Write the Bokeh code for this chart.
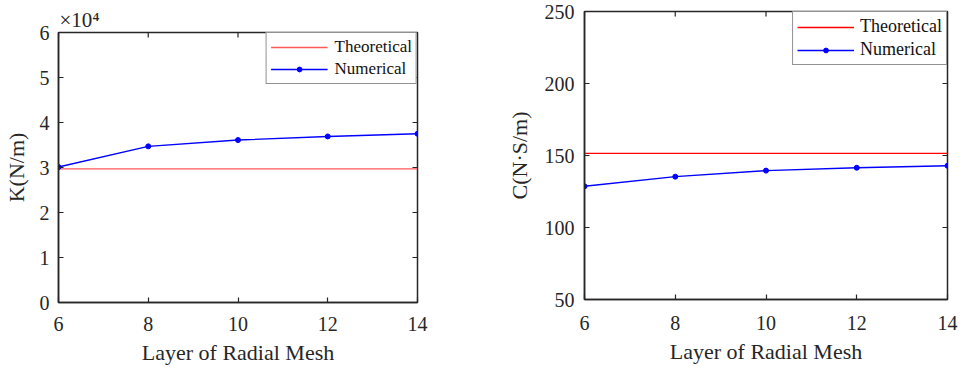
import math
from bokeh.plotting import figure
from bokeh.layouts import row, column
from bokeh.models import FixedTicker, Legend
from bokeh.embed import file_html
from bokeh.resources import INLINE

# ---- data ----
layers = [6, 8, 10, 12, 14]
k_numerical = [30100, 34700, 36100, 36900, 37500]
k_theoretical = [29700, 29700, 29700, 29700, 29700]
c_numerical = [128.6, 135.3, 139.5, 141.5, 142.9]
c_theoretical = [151.5, 151.5, 151.5, 151.5, 151.5]

x_ticks = [6, 8, 10, 12, 14]
k_ticks = [0, 10000, 20000, 30000, 40000, 50000, 60000]
k_tick_labels = ["0", "1", "2", "3", "4", "5", "6"]
c_ticks = [50, 100, 150, 200, 250]

FONT = "Liberation Serif"
AX = "#262626"


def style(p, yticks, ytop, xright, xstand, ystand, ylabstand):
    for ax in p.xaxis + p.yaxis:
        ax.axis_label_text_font = FONT
        ax.axis_label_text_font_style = "normal"
        ax.axis_label_text_font_size = "22px"
        ax.axis_label_text_color = AX
        ax.major_label_text_font = FONT
        ax.major_label_text_font_size = "20px"
        ax.major_label_text_color = AX
        ax.major_tick_in = 5
        ax.major_tick_out = 0
        ax.minor_tick_line_color = None
        ax.axis_line_color = AX
        ax.axis_line_width = 1.5
        ax.major_tick_line_color = AX
        ax.major_tick_line_width = 1.2
    p.xaxis.ticker = FixedTicker(ticks=x_ticks)
    p.yaxis.ticker = FixedTicker(ticks=yticks)
    p.xaxis.major_label_standoff = xstand
    p.xaxis.axis_label_standoff = 6
    p.yaxis.major_label_standoff = ystand
    p.yaxis.axis_label_standoff = ylabstand
    # box ticks on top and right (half of each dash is clipped by the frame)
    p.scatter(x_ticks, [ytop] * len(x_ticks), marker="dash", angle=math.pi / 2,
              size=10, line_color=AX, line_width=1.2)
    p.scatter([xright] * len(yticks), yticks, marker="dash",
              size=10, line_color=AX, line_width=1.2)
    p.xgrid.grid_line_color = None
    p.ygrid.grid_line_color = None
    p.outline_line_color = AX
    p.outline_line_width = 1.5
    p.background_fill_color = "white"
    p.border_fill_color = "white"


def legend(p, items, glyph_w, fsize, lh, standoff):
    lg = Legend(items=items, location="top_right")
    lg.margin = 0
    lg.padding = 4
    lg.spacing = 2
    lg.glyph_width = glyph_w
    lg.glyph_height = 12
    lg.label_height = lh
    lg.label_standoff = standoff
    lg.label_text_font = FONT
    lg.label_text_font_size = fsize
    lg.label_text_color = "#111111"
    lg.border_line_color = AX
    lg.border_line_width = 1.2
    lg.background_fill_alpha = 1
    p.add_layout(lg, "center")


# ---- left: K ----
p1 = figure(width=470, height=367, output_backend="svg",
            toolbar_location=None, x_range=(6, 14), y_range=(0, 60000),
            min_border_left=56, min_border_right=53, min_border_top=32,
            min_border_bottom=65, title="×10⁴", align="start")
p1.title.text_font = FONT
p1.title.text_font_style = "normal"
p1.title.text_font_size = "21px"
p1.title.text_color = AX
p1.title.align = "left"
p1.title.offset = 1
p1.title.standoff = 1
p1.xaxis.axis_label = "Layer of Radial Mesh"
p1.yaxis.axis_label = "K(N/m)"
style(p1, k_ticks, 60000, 14, 14, 9, 8)
p1.yaxis[0].major_label_overrides = {t: s for t, s in zip(k_ticks, k_tick_labels)}
rt1 = p1.line(layers, k_theoretical, line_color="#ff5a5a", line_width=1.4)
rn1 = p1.line(layers, k_numerical, line_color="#0000ff", line_width=1.4)
rs1 = p1.scatter(layers, k_numerical, size=5, color="#0000ff")
legend(p1, [("Theoretical", [rt1]), ("Numerical", [rn1, rs1])], 57, "17px", 20, 7)

# ---- right: C ----
p2 = figure(width=495, height=367, output_backend="svg",
            toolbar_location=None, x_range=(6, 14), y_range=(50, 250),
            min_border_left=114, min_border_right=18, min_border_top=11,
            min_border_bottom=68, align="start")
p2.xaxis.axis_label = "Layer of Radial Mesh"
p2.yaxis.axis_label = "C(N·S/m)"
style(p2, c_ticks, 250, 14, 16, 10, 10)
rt2 = p2.line(layers, c_theoretical, line_color="#ff0000", line_width=1.3)
rn2 = p2.line(layers, c_numerical, line_color="#0000ff", line_width=1.4)
rs2 = p2.scatter(layers, c_numerical, size=5, color="#0000ff")
legend(p2, [("Theoretical", [rt2]), ("Numerical", [rn2, rs2])], 57, "18px", 21, 6)

layout = row(column(p1), column(p2))
open("out.html", "w").write(file_html(layout, INLINE))
